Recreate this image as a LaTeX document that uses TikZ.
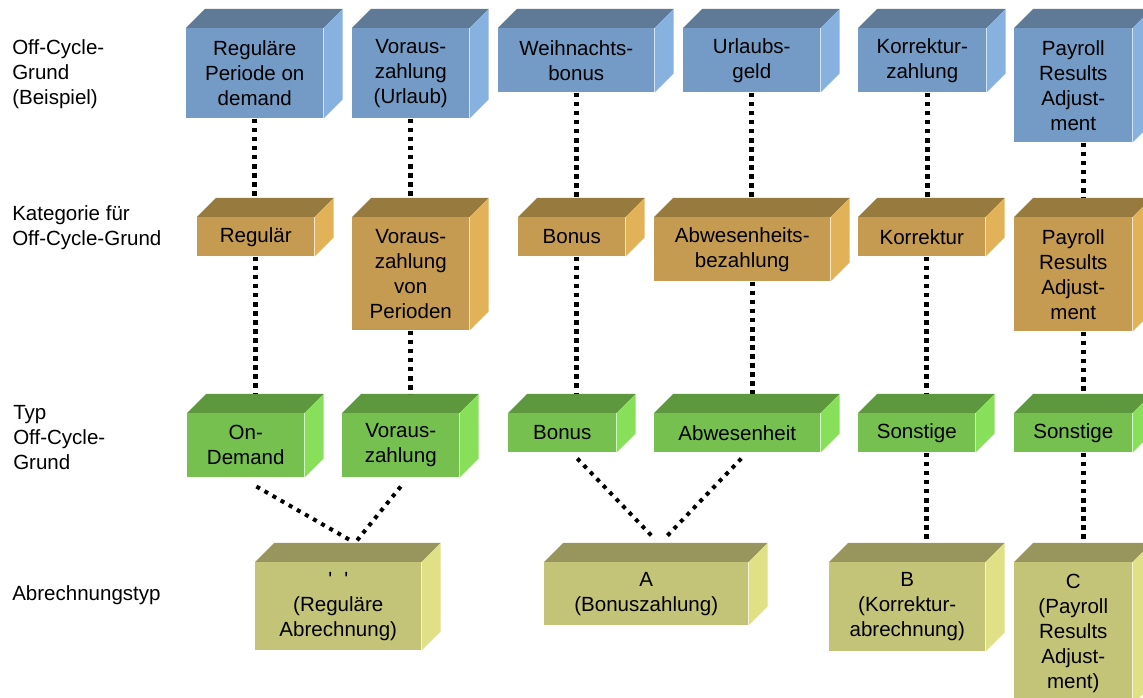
\documentclass[tikz,border=0pt]{standalone}
\usepackage{fontspec}
\setmainfont{Liberation Sans}
\usetikzlibrary{positioning, calc}

\definecolor{blueFront}{HTML}{739BC5}
\definecolor{blueTop}{HTML}{5E7A96}
\definecolor{blueSide}{HTML}{87B2E0}
\definecolor{brownFront}{HTML}{C49B50}
\definecolor{brownTop}{HTML}{967A3E}
\definecolor{brownSide}{HTML}{E1B258}
\definecolor{greenFront}{HTML}{76C050}
\definecolor{greenTop}{HTML}{5E983E}
\definecolor{greenSide}{HTML}{88E05A}
\definecolor{oliveFront}{HTML}{C4C478}
\definecolor{oliveTop}{HTML}{98965C}
\definecolor{oliveSide}{HTML}{E0E087}

\begin{document}
\begin{tikzpicture}[x=0.75pt, y=-0.75pt]
		\tikzset{
			every node/.style={font=\fontsize{15.4}{18.75}\selectfont},
			wd/.style={minimum width=#1*0.75pt},
			ht/.style={minimum height=#1*0.75pt},
			cube/.style={fill=#1Front, inner sep=0pt, align=center, anchor=north west,
				append after command={\pgfextra{\let\cubenode\tikzlastnode
					\fill[#1Top] (\cubenode.north west) -- ++(19,-19) -- ([shift={(19,-19)}]\cubenode.north east) -- (\cubenode.north east) -- cycle;
					\fill[#1Side] (\cubenode.north east) -- ++(19,-19) -- ([shift={(19,-19)}]\cubenode.south east) -- (\cubenode.south east) -- cycle;
					\coordinate (\cubenode-top) at ([shift={(9.5,-19)}]\cubenode.north);}}},
			rowlabel/.style={anchor=west, align=left, inner sep=0pt},
			dotline/.style={line width=3.9pt, dash pattern=on 3.5pt off 3.3pt},
			diagline/.style={line width=3pt, dash pattern=on 3pt off 4pt}
		}
		\useasboundingbox[fill=white] (0,0) rectangle (1143,698);
		
		% Row labels
		\node[rowlabel] (lblGrund) at (12,74) {Off-Cycle-\\Grund\\(Beispiel)};
		\node[rowlabel] (lblKat) at (12,228) {Kategorie für\\Off-Cycle-Grund};
		\node[rowlabel] (lblTyp) at (13,438) {Typ\\Off-Cycle-\\Grund};
		\node[rowlabel] (lblAbr) at (12,595) {Abrechnungstyp};
		
		% Off-Cycle-Grund (Beispiel)
		\node[cube=blue, wd=137, ht=90] (b1) at (186,28) {Reguläre\\Periode on\\demand};
		\node[cube=blue, wd=117, ht=90] (b2) at (352,28) {Voraus-\\zahlung\\(Urlaub)};
		\node[cube=blue, wd=156, ht=64] (b3) at (498,28) {Weihnachts-\\bonus};
		\node[cube=blue, wd=137, ht=64] (b4) at (683,28) {Urlaubs-\\geld};
		\node[cube=blue, wd=128, ht=64] (b5) at (858,28) {Korrektur-\\zahlung};
		\node[cube=blue, wd=118, ht=114] (b6) at (1014,28) {Payroll\\Results\\Adjust-\\ment};
		
		% Kategorie
		\node[cube=brown, wd=117, ht=39] (k1) at (197,217) {Regulär};
		\node[cube=brown, wd=117, ht=113] (k2) at (352,217) {Voraus-\\zahlung\\von\\Perioden};
		\node[cube=brown, wd=107, ht=39] (k3) at (518,217) {Bonus};
		\node[cube=brown, wd=176, ht=64] (k4) at (654,217) {Abwesenheits-\\bezahlung};
		\node[cube=brown, wd=127, ht=39] (k5) at (858,217) {Korrektur};
		\node[cube=brown, wd=118, ht=114] (k6) at (1014,217) {Payroll\\Results\\Adjust-\\ment};
		
		% Typ
		\node[cube=green, wd=117, ht=64] (t1) at (187,413) {On-\\Demand};
		\node[cube=green, wd=117, ht=64] (t2) at (342,413) {Voraus-\\zahlung};
		\node[cube=green, wd=108, ht=39] (t3) at (508,413) {Bonus};
		\node[cube=green, wd=166, ht=39] (t4) at (654,413) {Abwesenheit};
		\node[cube=green, wd=117, ht=39] (t5) at (858,413) {Sonstige};
		\node[cube=green, wd=118, ht=39] (t6) at (1014,413) {Sonstige};
		
		% Abrechnungstyp
		\node[cube=olive, wd=166, ht=88] (a1) at (255,562) {\textquotesingle\hspace{9pt}\textquotesingle\\(Reguläre\\Abrechnung)};
		\node[cube=olive, wd=204, ht=63] (a2) at (544,562) {A\\(Bonuszahlung)};
		\node[cube=olive, wd=156, ht=89] (a3) at (829,562) {B\\(Korrektur-\\abrechnung)};
		\node[cube=olive, wd=118, ht=142] (a4) at (1014,562) {C\\(Payroll\\Results\\Adjust-\\ment)};
		
		% Vertical dotted links
		\foreach \u/\l/\dx in {b1/k1/0, k1/t1/0, b2/k2/0, k2/t2/0, b3/k3/0, k3/t3/5, b4/k4/0, k4/t4/10,
			b5/k5/5, k5/t5/5, t5/a3/10, b6/k6/10, k6/t6/10, t6/a4/10} {
			\coordinate (from) at ([xshift=\dx*0.75pt]\u.south);
			\draw[dotline] (from) -- (from |- \l-top);
		}
		
		% Diagonal dotted links
		\draw[diagline] ([xshift=8pt, yshift=-6.75pt]t1.south) -- ([xshift=2pt, yshift=2pt]a1-top);
		\draw[diagline] ([yshift=-6.75pt]t2.south) -- ([xshift=7pt, yshift=2pt]a1-top);
		\draw[diagline] ([xshift=11.25pt, yshift=-4.5pt]t3.south) -- ([xshift=-1.5pt, yshift=3.75pt]a2-top);
		\draw[diagline] ([xshift=3pt, yshift=-4.5pt]t4.south) -- ([xshift=7pt, yshift=3.75pt]a2-top);
		
\end{tikzpicture}
\end{document}
